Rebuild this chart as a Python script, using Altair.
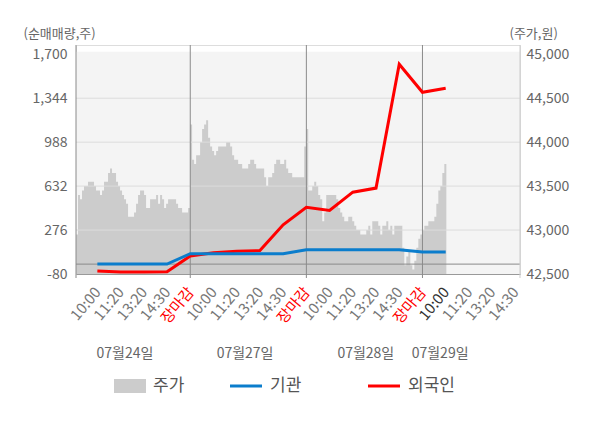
import altair as alt
import pandas as pd

FONT = "Noto Sans CJK KR"

# ---------------- data ----------------
day_labels = ["07월24일", "07월27일", "07월28일", "07월29일"]
tick_labels = ["10:00", "11:20", "13:20", "14:30", "장마감"] * 3 + ["10:00", "11:20", "13:20", "14:30"]
series_names = ["주가", "기관", "외국인"]

price_0724 = [42950, 43400, 43350, 43450, 43500, 43500, 43550, 43550, 43550, 43500,
              43450, 43450, 43400, 43450, 43550, 43550, 43650, 43700, 43650, 43650,
              43550, 43500, 43450, 43400, 43350, 43300, 43150, 43150, 43150, 43200,
              43300, 43400, 43450, 43450, 43400, 43250, 43250, 43350, 43350, 43350,
              43400, 43300, 43400, 43350, 43250, 43300, 43350, 43350, 43350, 43350,
              43300, 43250, 43250, 43200, 43200, 43200, 43250, 44200]
price_0727 = [43800, 43750, 43850, 43850, 44000, 44150, 44200, 44250, 44050, 43950,
              43900, 43850, 43900, 43950, 43950, 43950, 43950, 44000, 44000, 43950,
              43850, 43800, 43800, 43750, 43750, 43700, 43700, 43700, 43750, 43800,
              43800, 43750, 43700, 43700, 43700, 43700, 43600, 43500, 43600, 43600,
              43650, 43750, 43800, 43800, 43750, 43750, 43800, 43700, 43650, 43650,
              43600, 43600, 43600, 43600, 43600, 43600, 43950, 44150]
price_0728 = [43450, 43450, 43500, 43550, 43500, 43400, 43350, 43100, 43200, 43400,
              43400, 43400, 43400, 43400, 43350, 43250, 43200, 43150, 43100, 43100,
              43150, 43150, 43100, 43050, 43000, 43000, 42950, 42950, 42950, 43000,
              43050, 42950, 43100, 43100, 43100, 43050, 42950, 43050, 43050, 43100,
              43000, 43050, 42950, 43050, 43050, 43050, 43050, 42800, 42600, 42700,
              42750, 42600, 42550, 42650, 42800, 42900, 42950, 43000]
price_0729 = [43050, 43050, 43100, 43100, 43100, 43150, 43300, 43450, 43500, 43650,
              43750, 43750]

flow_slots = list(range(1, 17))
inst_qty = [0, 0, 0, 0, 84, 84, 84, 84, 84, 116, 116, 116, 116, 116, 98, 98]
foreign_qty = [-55, -64, -64, -62, 66, 92, 104, 110, 319, 460, 434, 583, 616, 1619, 1392, 1425]

left_ticks = [-80, 276, 632, 988, 1344, 1700]
right_ticks = [42500, 43000, 43500, 44000, 44500, 45000]
close_slots = [5, 10, 15]
date_slots = [2.19, 7.36, 12.56, 15.76]

# ---------------- tables ----------------
SAMPLES_PER_DAY = 58
rows = []
for d, day_prices in enumerate([price_0724, price_0727, price_0728, price_0729]):
    for i, p in enumerate(day_prices):
        rows.append({"slot": 5 * d + 0.08 + i * 5 / SAMPLES_PER_DAY, "price": p})
price_df = pd.DataFrame(rows)

inst_df = pd.DataFrame({"slot": flow_slots, "v": inst_qty})
foreign_df = pd.DataFrame({"slot": flow_slots, "v": foreign_qty})
grid_df = pd.DataFrame({"v": left_ticks[1:-1]})
zero_df = pd.DataFrame({"v": [0]})
close_df = pd.DataFrame({"slot": close_slots})
date_df = pd.DataFrame({"slot": date_slots, "label": day_labels})
one = pd.DataFrame({"k": [0]})

# ---------------- scales / axes ----------------
W, H = 444, 229
BLUE = "#0b7dcc"
RED = "#ff0000"
NUM_EXPR = "replace(format(datum.value, ',d'), '\u2212', '-')"

xscale = alt.Scale(domain=[0.08, 19.2], nice=False, zero=False)
label_js = "[" + ",".join("'%s'" % t for t in tick_labels) + "][datum.value - 1]"
xaxis = alt.Axis(
    values=list(range(1, 20)), labelExpr=label_js, labelAngle=-50,
    labelAlign="right", labelBaseline="middle", labelPadding=15,
    ticks=False, domain=True, domainColor="#999999", grid=False,
    labelOverlap=False, labelFlush=False, labelBound=False,
    labelFontSize=15, labelFont=FONT, title=None,
    labelColor={"condition": [{"test": "datum.value % 5 == 0", "value": RED},
                              {"test": "datum.value == 16", "value": "#333333"}],
                "value": "#777777"},
)
X = alt.X("slot:Q", scale=xscale, axis=xaxis)

lscale = alt.Scale(domain=[-80, 1775], nice=False, zero=False)
laxis = alt.Axis(
    orient="left", values=left_ticks, labelExpr=NUM_EXPR, labelFontSize=14,
    labelColor="#666666", labelPadding=9, ticks=False, domain=False, grid=False,
    labelFlush=False, labelFont=FONT,
    title="(순매매량,주)", titleAngle=0, titleAlign="left", titleBaseline="middle",
    titleX=-53, titleY=-12, titleFontSize=13, titleFontWeight="normal",
    titleColor="#666666", titleFont=FONT,
)
YL = alt.Y("v:Q", scale=lscale, axis=laxis)

rscale = alt.Scale(domain=[42500, 45105], nice=False, zero=False)
raxis = alt.Axis(
    orient="right", values=right_ticks, labelExpr=NUM_EXPR, labelFontSize=14,
    labelColor="#666666", labelPadding=6, ticks=False, domain=False, grid=False,
    labelFlush=False, labelFont=FONT,
    title="(주가,원)", titleAngle=0, titleAlign="left", titleBaseline="middle",
    titleX=-11, titleY=-12, titleFontSize=13, titleFontWeight="normal",
    titleColor="#666666", titleFont=FONT,
)

# ---------------- layers ----------------
bg = alt.Chart(one).mark_rect(color="#f4f4f4").encode(
    x=alt.value(0), x2=alt.value(W), y=alt.value(6.7), y2=alt.value(H))

area = alt.Chart(price_df).mark_area(
    color="#cccccc", opacity=1, interpolate="step-after", clip=True
).encode(x=X, y=alt.Y("price:Q", scale=rscale, axis=raxis), y2=alt.datum(42500))

grid = alt.Chart(grid_df).mark_rule(color="#dcdcdc", strokeWidth=1).encode(
    y=YL, x=alt.value(0), x2=alt.value(W))
zero = alt.Chart(zero_df).mark_rule(color="#8a8a8a", strokeWidth=1).encode(
    y=YL, x=alt.value(0), x2=alt.value(W))
seps = alt.Chart(close_df).mark_rule(color="#8a8a8a", strokeWidth=1).encode(
    x=X, y=alt.value(0), y2=alt.value(H + 4))
left_edge = alt.Chart(one).mark_rule(color="#8a8a8a", strokeWidth=1).encode(
    x=alt.value(0), y=alt.value(0), y2=alt.value(H + 4))
right_edge = alt.Chart(one).mark_rule(color="#cccccc", strokeWidth=1).encode(
    x=alt.value(W), y=alt.value(0), y2=alt.value(H + 4))

red_line = alt.Chart(foreign_df).mark_line(color=RED, strokeWidth=3).encode(x=X, y=YL)
blue_line = alt.Chart(inst_df).mark_line(color=BLUE, strokeWidth=3).encode(x=X, y=YL)

dates = alt.Chart(date_df).mark_text(
    fontSize=14, color="#666666", align="center", baseline="middle", font=FONT
).encode(x=X, y=alt.value(309), text="label:N")

LY = 341
leg_area = alt.Chart(one).mark_rect(color="#cccccc").encode(
    x=alt.value(38), x2=alt.value(70), y=alt.value(LY - 7), y2=alt.value(LY + 7))
leg_area_t = alt.Chart(one).mark_text(
    align="left", baseline="middle", fontSize=17, color="#555555", font=FONT
).encode(x=alt.value(77), y=alt.value(LY), text=alt.value(series_names[0]))
leg_inst = alt.Chart(one).mark_rule(color=BLUE, strokeWidth=3).encode(
    x=alt.value(154), x2=alt.value(186), y=alt.value(LY))
leg_inst_t = alt.Chart(one).mark_text(
    align="left", baseline="middle", fontSize=17, color="#555555", font=FONT
).encode(x=alt.value(194), y=alt.value(LY), text=alt.value(series_names[1]))
leg_for = alt.Chart(one).mark_rule(color=RED, strokeWidth=3).encode(
    x=alt.value(292), x2=alt.value(324), y=alt.value(LY))
leg_for_t = alt.Chart(one).mark_text(
    align="left", baseline="middle", fontSize=17, color="#555555", font=FONT
).encode(x=alt.value(332), y=alt.value(LY), text=alt.value(series_names[2]))

left_group = alt.layer(grid, zero, seps, left_edge, right_edge, red_line, blue_line, dates,
                       leg_area, leg_area_t, leg_inst, leg_inst_t, leg_for, leg_for_t)

chart = alt.layer(bg, area, left_group).resolve_scale(y="independent").properties(
    width=W, height=H,
    padding={"left": 68, "top": 37, "right": 72, "bottom": 146},
    autosize=alt.AutoSizeParams(type="none"),
).configure_view(stroke=None).configure(font=FONT)

chart.save("out.html", embed_options={"renderer": "svg", "actions": False})
